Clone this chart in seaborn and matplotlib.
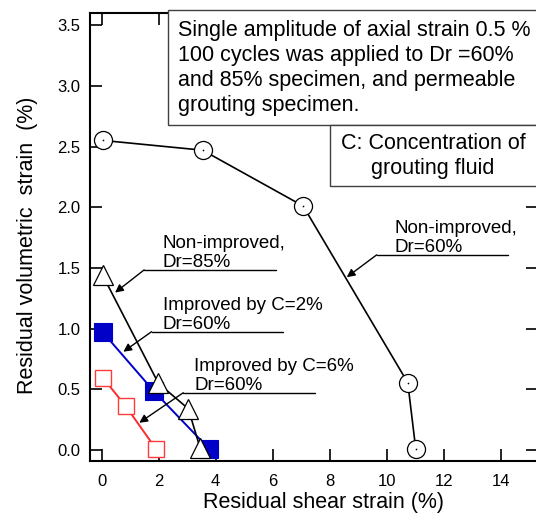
import numpy as np
import pandas as pd
import matplotlib
matplotlib.use("Agg")
import matplotlib.pyplot as plt
import seaborn as sns
from matplotlib.patches import Rectangle

# Datos (deformacion de corte residual vs deformacion volumetrica residual)
shear_dr60 = [0.06, 3.54, 7.07, 10.74, 11.02]
vol_dr60 = [2.55, 2.47, 2.01, 0.555, 0.01]

shear_dr85 = [0.035, 1.99, 3.04, 3.45]
vol_dr85 = [1.44, 0.55, 0.34, 0.02]

shear_c2 = [0.04, 1.83, 3.77]
vol_c2 = [0.97, 0.485, 0.01]

shear_c6 = [0.06, 0.85, 1.92]
vol_c6 = [0.59, 0.36, 0.005]

x_ticks = [0, 2, 4, 6, 8, 10, 12, 14]
y_ticks = [0.0, 0.5, 1.0, 1.5, 2.0, 2.5, 3.0, 3.5]

sns.set_style("ticks")
plt.rcParams["font.family"] = ["Liberation Sans", "DejaVu Sans"]
plt.rcParams["text.color"] = "black"
plt.rcParams["axes.labelcolor"] = "black"

W, H = 536, 513
fig = plt.figure(figsize=(W / 100, H / 100), dpi=100)
ax = fig.add_axes([90 / W, 1 - 461 / H, 448 / W, 448 / H])

# Series
sns.lineplot(x=shear_c2, y=vol_c2, sort=False, estimator=None, ax=ax,
             color="#0000c8", lw=1.4, marker="s", markersize=12.5,
             markerfacecolor="#0000c8", markeredgecolor="#0000c8", markeredgewidth=0.8)
sns.lineplot(x=shear_c6, y=vol_c6, sort=False, estimator=None, ax=ax,
             color="#ff2a2a", lw=1.4, marker="s", markersize=12,
             markerfacecolor="white", markeredgecolor="#ff3a3a", markeredgewidth=1.0)
sns.lineplot(x=shear_dr85, y=vol_dr85, sort=False, estimator=None, ax=ax,
             color="black", lw=1.2, marker="^", markersize=14,
             markerfacecolor="white", markeredgecolor="black", markeredgewidth=0.9)
sns.lineplot(x=shear_dr60, y=vol_dr60, sort=False, estimator=None, ax=ax,
             color="black", lw=1.2, marker="o", markersize=13,
             markerfacecolor="white", markeredgecolor="black", markeredgewidth=0.9)
# punto central de los circulos
sns.scatterplot(x=shear_dr60, y=vol_dr60, ax=ax, color="black", s=1.5, marker="o",
                linewidth=0, zorder=5)

ax.set_xlim(-0.41, 15.31)
ax.set_ylim(-0.09, 3.6)
ax.set_xticks(x_ticks)
ax.set_yticks(y_ticks)
ax.set_yticklabels([f"{v:.1f}" for v in y_ticks])
ax.tick_params(direction="in", length=8.5, width=1.2, labelsize=12,
               top=True, right=True, colors="black", pad=7)
ax.tick_params(axis="x", pad=9)
for s in ax.spines.values():
    s.set_linewidth(1.5)
    s.set_color("black")

ax.set_xlabel("Residual shear strain (%)", fontsize=15.5)
ax.set_ylabel("Residual volumetric  strain  (%)", fontsize=15.5)
ax.xaxis.set_label_coords(0.522, -0.069)
ax.yaxis.set_label_coords(-0.115, 0.482)

# Anotaciones: (texto, x texto, linea y, linea x0, linea x1, punta flecha)
annots = [
    ("Non-improved,\nDr=85%", 2.14, 1.484, 1.49, 6.12, (0.47, 1.297)),
    ("Improved by C=2%\nDr=60%", 2.14, 0.975, 1.75, 6.37, (0.76, 0.81)),
    ("Improved by C=6%\nDr=60%", 3.24, 0.472, 2.86, 7.48, (1.32, 0.225)),
    ("Non-improved,\nDr=60%", 10.27, 1.608, 9.65, 14.27, (8.60, 1.424)),
]
for txt, tx, ly, x0, x1, head in annots:
    ax.plot([x0, x1], [ly, ly], color="black", lw=1.0)
    ax.annotate("", xy=head, xytext=(x0, ly),
                arrowprops=dict(arrowstyle="-|>", color="black", lw=1.0,
                                mutation_scale=12, shrinkA=0, shrinkB=0))
    ax.text(tx, ly - 0.01, txt, fontsize=13.5, ha="left", va="bottom",
            linespacing=1.15)

# Cuadros de texto sobre la figura
fig.patches.append(Rectangle((168 / W, 1 - 125 / H), 380 / W, 115 / H,
                             transform=fig.transFigure, facecolor="white",
                             edgecolor="#404040", lw=1.0, zorder=2))
fig.text(178 / W, 1 - 68 / H,
         "Single amplitude of axial strain 0.5 %\n100 cycles was applied to Dr =60%\n"
         "and 85% specimen, and permeable\ngrouting specimen.",
         fontsize=15.5, ha="left", va="center", linespacing=1.26, zorder=3)
fig.patches.append(Rectangle((330 / W, 1 - 186 / H), 220 / W, 61 / H,
                             transform=fig.transFigure, facecolor="white",
                             edgecolor="#404040", lw=1.0, zorder=2))
fig.text(433 / W, 1 - 156 / H, "C: Concentration of\ngrouting fluid",
         fontsize=15.5, ha="center", va="center", linespacing=1.2, zorder=3)

fig.savefig("out.png", dpi=100)
